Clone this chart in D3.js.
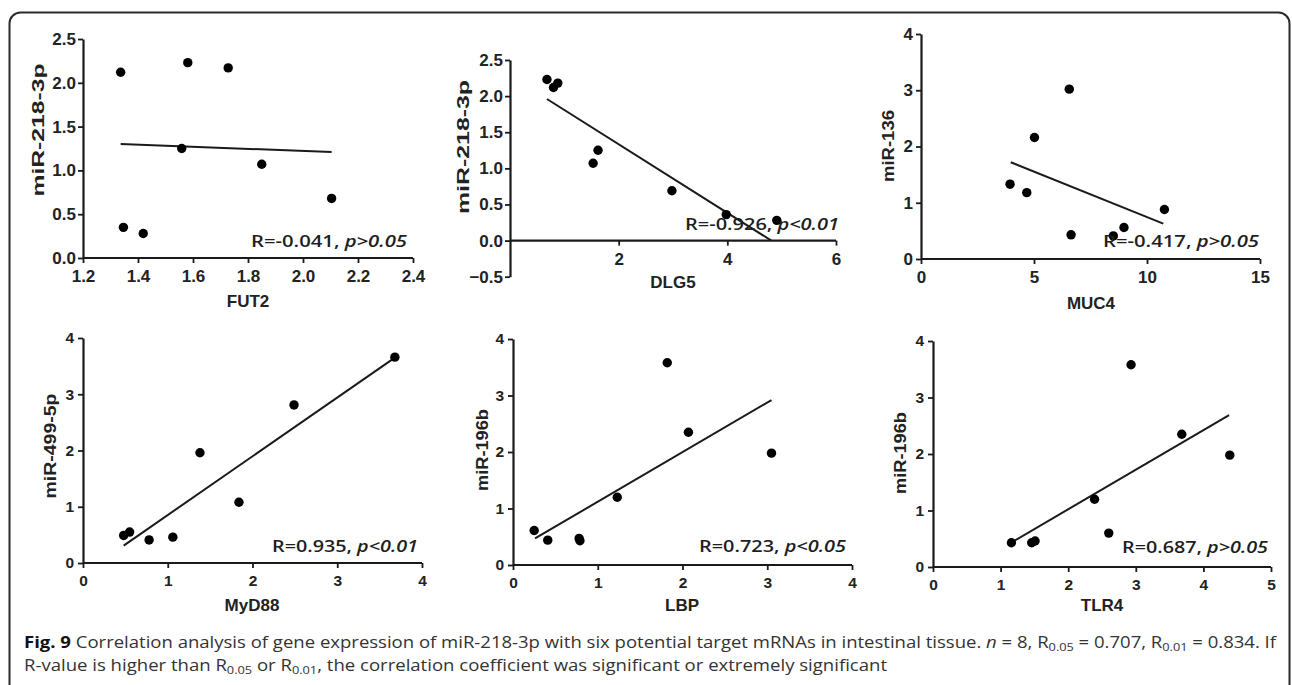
<!DOCTYPE html>
<html>
<head>
<meta charset="utf-8">
<script src="https://cdn.jsdelivr.net/npm/d3@7"></script>
<style>
  html, body { margin: 0; padding: 0; background: #fff; }
  svg { display: block; }
</style>
</head>
<body>
<svg id="chart" width="1292" height="685"></svg>
<script>
// ---------------- DATA ----------------
const panelNames = ["FUT2", "DLG5", "MUC4", "MyD88", "LBP", "TLR4"];
const yTitles = ["miR-218-3p", "miR-218-3p", "miR-136", "miR-499-5p", "miR-196b", "miR-196b"];

const fut2X  = [1.337, 1.347, 1.419, 1.559, 1.581, 1.728, 1.850, 2.104];
const fut2Y  = [2.12, 0.35, 0.28, 1.25, 2.23, 2.17, 1.07, 0.68];
const dlg5X  = [0.68, 0.80, 0.88, 1.53, 1.62, 2.98, 3.98, 4.91];
const dlg5Y  = [2.23, 2.12, 2.18, 1.07, 1.25, 0.69, 0.36, 0.28];
const muc4X  = [3.94, 4.68, 5.02, 6.56, 6.64, 8.51, 8.98, 10.77];
const muc4Y  = [1.33, 1.18, 2.16, 3.02, 0.43, 0.41, 0.56, 0.88];
const myd88X = [0.48, 0.55, 0.78, 1.06, 1.38, 1.84, 2.49, 3.68];
const myd88Y = [0.49, 0.55, 0.41, 0.46, 1.96, 1.08, 2.81, 3.66];
const lbpX   = [0.25, 0.41, 0.78, 0.79, 1.23, 1.82, 2.07, 3.05];
const lbpY   = [0.61, 0.44, 0.47, 0.43, 1.20, 3.58, 2.35, 1.98];
const tlr4X  = [1.16, 1.46, 1.51, 2.39, 2.60, 2.93, 3.68, 4.39];
const tlr4Y  = [0.43, 0.43, 0.46, 1.20, 0.60, 3.58, 2.35, 1.98];

// regression line end points [x, y]
const fut2Fit  = [[1.337, 1.30], [2.104, 1.21]];
const dlg5Fit  = [[0.68, 1.96], [4.81, 0.0]];
const muc4Fit  = [[3.97, 1.72], [10.72, 0.63]];
const myd88Fit = [[0.48, 0.31], [3.68, 3.65]];
const lbpFit   = [[0.26, 0.47], [3.05, 2.92]];
const tlr4Fit  = [[1.17, 0.44], [4.38, 2.69]];

const rTexts = ["R=-0.041, ", "R=-0.926, ", "R=-0.417, ", "R=0.935, ", "R=0.723, ", "R=0.687, "];
const pTexts = ["p>0.05", "p<0.01", "p>0.05", "p<0.01", "p<0.05", "p>0.05"];

const xDomains = [[1.2, 2.4], [0, 6], [0, 15], [0, 4], [0, 4], [0, 5]];
const yDomains = [[0, 2.5], [-0.5, 2.5], [0, 4], [0, 4], [0, 4], [0, 4]];
const xTickVals = [[1.2, 1.4, 1.6, 1.8, 2.0, 2.2, 2.4], [2, 4, 6], [0, 5, 10, 15], [0, 1, 2, 3, 4], [0, 1, 2, 3, 4], [0, 1, 2, 3, 4, 5]];
const yTickVals = [[0, 0.5, 1.0, 1.5, 2.0, 2.5], [-0.5, 0, 0.5, 1.0, 1.5, 2.0, 2.5], [0, 1, 2, 3, 4], [0, 1, 2, 3, 4], [0, 1, 2, 3, 4], [0, 1, 2, 3, 4]];
const xTickFmt = [".1f", "d", "d", "d", "d", "d"];
const yTickFmt = [".1f", ".1f", "d", "d", "d", "d"];

const captionLine1 = [
  {t: "Fig. 9", bold: true},
  {t: " Correlation analysis of gene expression of miR-218-3p with six potential target mRNAs in intestinal tissue. "},
  {t: "n", italic: true},
  {t: " = 8, R"}, {t: "0.05", sub: true}, {t: " = 0.707, R"}, {t: "0.01", sub: true}, {t: " = 0.834. If"}
];
const captionLine2 = [
  {t: "R-value is higher than R"}, {t: "0.05", sub: true}, {t: " or R"}, {t: "0.01", sub: true},
  {t: ", the correlation coefficient was significant or extremely significant"}
];

// ---------------- LAYOUT ----------------
const xsData = [fut2X, dlg5X, muc4X, myd88X, lbpX, tlr4X];
const ysData = [fut2Y, dlg5Y, muc4Y, myd88Y, lbpY, tlr4Y];
const fits = [fut2Fit, dlg5Fit, muc4Fit, myd88Fit, lbpFit, tlr4Fit];

const layout = [
  {xr: [83, 413],  yr: [258, 39],    tick: 17, ypad: 2, xt: {x: 248, y: 307},  yt: {x: 38,  y: 130, len: 133}, ann: {x: 407,  y: 247, len: 156}},
  {xr: [510, 836], yr: [276.7, 60],  tick: 17, ypad: 2, xt: {x: 673, y: 288},  yt: {x: 463, y: 147, len: 134}, ann: {x: 839,  y: 230, len: 154}},
  {xr: [921, 1260],yr: [259, 34],    tick: 17, ypad: 3, xt: {x: 1091, y: 309}, yt: {x: 888, y: 146, len: 72},  ann: {x: 1259, y: 247, len: 156}},
  {xr: [83, 422],  yr: [563, 338],   tick: 15.5, ypad: 4, xt: {x: 252, y: 611},  yt: {x: 50,  y: 446, len: 105}, ann: {x: 418,  y: 552, len: 146}},
  {xr: [513, 852], yr: [565, 339],   tick: 15.5, ypad: 4, xt: {x: 682, y: 611},  yt: {x: 482, y: 450, len: 82},  ann: {x: 846,  y: 552, len: 147}},
  {xr: [933, 1271],yr: [567, 341],   tick: 15.5, ypad: 4, xt: {x: 1102, y: 611}, yt: {x: 900, y: 453, len: 82},  ann: {x: 1268, y: 553, len: 146}}
];

const svg = d3.select("#chart");
const ink = "#1a1a1a";

// frame
svg.append("rect")
  .attr("x", 9.5).attr("y", 12.5).attr("width", 1280).attr("height", 690)
  .attr("rx", 11).attr("ry", 11)
  .attr("fill", "none").attr("stroke", "#2a2a2a").attr("stroke-width", 2);

panelNames.forEach((name, i) => {
  const L = layout[i];
  const x = d3.scaleLinear().domain(xDomains[i]).range(L.xr);
  const y = d3.scaleLinear().domain(yDomains[i]).range(L.yr);
  const g = svg.append("g");

  const xAxis = d3.axisBottom(x).tickValues(xTickVals[i]).tickFormat(d3.format(xTickFmt[i]))
    .tickSize(5).tickSizeOuter(0).tickPadding(7);
  const yAxis = d3.axisLeft(y).tickValues(yTickVals[i]).tickFormat(d3.format(yTickFmt[i]))
    .tickSize(5).tickSizeOuter(0).tickPadding(L.ypad);

  const gx = g.append("g").attr("transform", `translate(0,${y(0)})`).call(xAxis);
  const gy = g.append("g").attr("transform", `translate(${L.xr[0]},0)`).call(yAxis);
  [gx, gy].forEach(a => {
    a.attr("font-size", null).attr("font-family", null);
    a.select(".domain").attr("stroke", ink).attr("stroke-width", 2.2);
    a.selectAll(".tick line").attr("stroke", ink).attr("stroke-width", 1.8);
    a.selectAll(".tick text").attr("fill", "#222")
      .attr("font-family", "Liberation Sans, Arial, sans-serif")
      .attr("font-weight", "bold").attr("font-size", L.tick);
  });
  gx.select(".domain").attr("d", `M${L.xr[0]},0H${L.xr[1]}`);

  // fit line
  const line = d3.line().x(d => x(d[0])).y(d => y(d[1]));
  g.append("path").datum(fits[i]).attr("d", line)
    .attr("fill", "none").attr("stroke", ink).attr("stroke-width", 2);

  // points
  g.selectAll("circle.pt").data(d3.zip(xsData[i], ysData[i])).join("circle")
    .attr("class", "pt")
    .attr("cx", d => x(d[0])).attr("cy", d => y(d[1])).attr("r", 4.7)
    .attr("fill", "#000");

  // annotation
  const t = g.append("text")
    .attr("x", L.ann.x).attr("y", L.ann.y)
    .attr("text-anchor", "end")
    .attr("textLength", L.ann.len).attr("lengthAdjust", "spacingAndGlyphs")
    .style("font-family", "Open Sans, sans-serif").style("font-weight", 600)
    .style("font-size", "17px").attr("fill", "#1e1e1e");
  t.append("tspan").text(rTexts[i]);
  t.append("tspan").style("font-style", "italic").text(pTexts[i]);

  // x title
  g.append("text").attr("x", L.xt.x).attr("y", L.xt.y).attr("text-anchor", "middle")
    .style("font-family", "Liberation Sans, Arial, sans-serif").style("font-weight", "bold")
    .style("font-size", "17px").attr("fill", "#222").text(name);

  // y title
  g.append("text")
    .attr("transform", `translate(${L.yt.x},${L.yt.y}) rotate(-90)`)
    .attr("text-anchor", "middle").attr("dy", "0.35em")
    .attr("textLength", L.yt.len).attr("lengthAdjust", "spacingAndGlyphs")
    .style("font-family", "Liberation Sans, Arial, sans-serif").style("font-weight", "bold")
    .style("font-size", i < 3 ? "16px" : "17px").attr("fill", "#222").text(yTitles[i]);
});

// caption
function caption(parts, yPos, len) {
  const t = svg.append("text").attr("x", 24).attr("y", yPos)
    .attr("textLength", len).attr("lengthAdjust", "spacingAndGlyphs")
    .style("font-family", "Open Sans, sans-serif").style("font-size", "16px").attr("fill", "#333");
  parts.forEach(p => {
    const s = t.append("tspan").text(p.t);
    if (p.bold) s.style("font-weight", "bold").attr("fill", "#111");
    if (p.italic) s.style("font-style", "italic");
    if (p.sub) s.style("font-size", "11px").attr("baseline-shift", "-3");
  });
}
caption(captionLine1, 648, 1252);
caption(captionLine2, 671, 863);
</script>
</body>
</html>
